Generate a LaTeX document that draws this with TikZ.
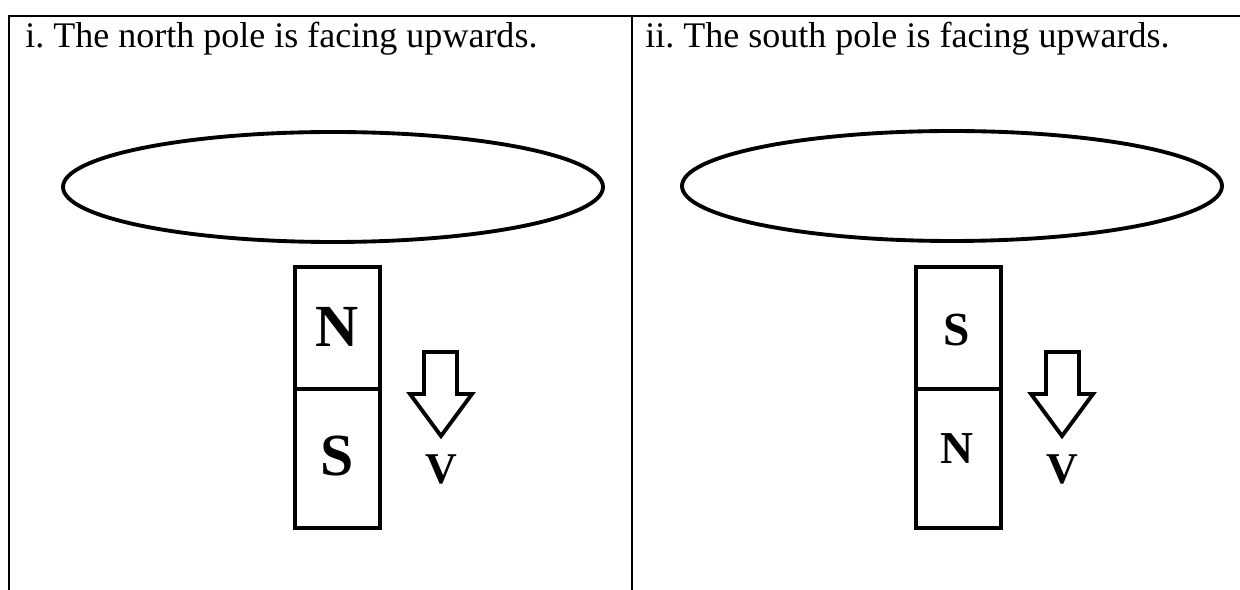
\documentclass[tikz,border=0pt]{standalone}
\usepackage{fontspec}
\setmainfont{Liberation Serif}
\usetikzlibrary{positioning}

\tikzset{
  rule/.style={line width=1.2pt},
  outline/.style={line width=2.2pt},
  caption/.style={anchor=base west,inner sep=0pt,font=\fontsize{20.5}{25}\selectfont},
  pole/.style={inner sep=0pt,font=\bfseries\fontsize{#1}{#1}\selectfont},
}

\begin{document}
\begin{tikzpicture}[x=0.02cm,y=-0.02cm]
\useasboundingbox (0,0) rectangle (1240,590);
% table frame
\draw[rule] (8,16) -- (1240,16);
\draw[rule] (9,16) -- (9,590);
\draw[rule] (632,16) -- (632,590);
\node[caption] (capA) at (25,48) {i.\ The north pole is facing upwards.};
\node[caption] (capB) at (645,48) {ii.\ The south pole is facing upwards.};

% left panel: north pole up
\draw[outline] (333,187) ellipse [x radius=270, y radius=55];
\draw[outline] (295,267) rectangle (380,528);
\draw[outline] (295,389) -- (382,389);
\node[pole=34] (nA) at (337,327) {N};
\node[pole=34] (sA) at (337,456) {S};
\draw[outline,line join=miter] (424,352) -- (457,352) -- (457,394) -- (472,394) -- (441,436) -- (410,394) -- (424,394) -- cycle;
\node[pole=25] (vA) at (441,469) {V};

% right panel: south pole up
\draw[outline] (952,186) ellipse [x radius=270, y radius=55];
\draw[outline] (916,267) rectangle (1001,528);
\draw[outline] (916,389) -- (1003,389);
\node[pole=27] (sB) at (957,330) {S};
\node[pole=26] (nB) at (957,449) {N};
\draw[outline,line join=miter] (1046,352) -- (1079,352) -- (1079,394) -- (1093,394) -- (1062,436) -- (1031,394) -- (1046,394) -- cycle;
\node[pole=25] (vB) at (1062,469) {V};
\end{tikzpicture}
\end{document}
